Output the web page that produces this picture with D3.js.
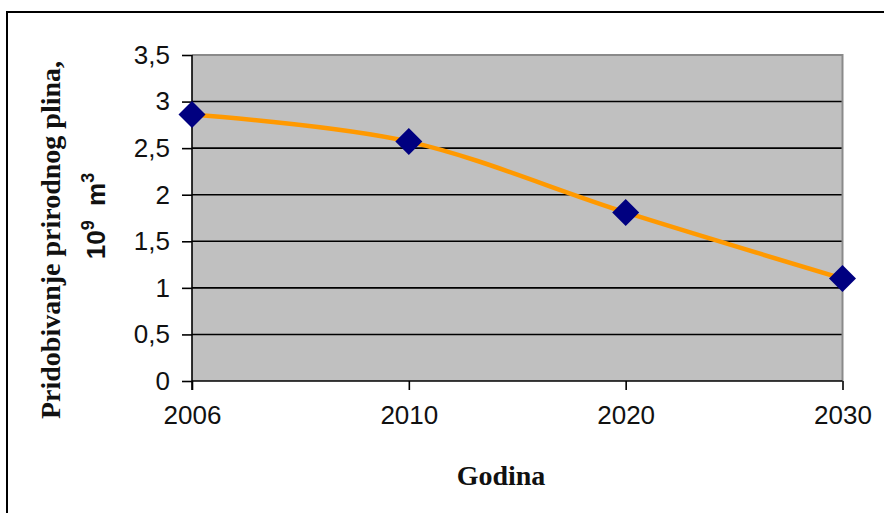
<!DOCTYPE html>
<html>
<head>
<meta charset="utf-8">
<script src="https://cdn.jsdelivr.net/npm/d3@7"></script>
<style>
  html, body { margin: 0; padding: 0; background: #fff; }
  svg { display: block; }
</style>
</head>
<body>
<svg id="chart" width="884" height="513"></svg>
<script>
const years = ["2006", "2010", "2020", "2030"];
const production = [2.86, 2.57, 1.81, 1.10];
const yTicks = [0, 0.5, 1, 1.5, 2, 2.5, 3, 3.5];
const yTitleLine1 = "Pridobivanje prirodnog plina,";
const xTitle = "Godina";

const svg = d3.select("#chart");
const W = 884, H = 513;
const plot = { left: 192, right: 842.5, top: 55, bottom: 381 };

// outer frame
svg.append("rect")
  .attr("x", 7).attr("y", 12)
  .attr("width", W + 20).attr("height", H + 20)
  .attr("fill", "#fff").attr("stroke", "#000").attr("stroke-width", 2);

const x = d3.scalePoint().domain(years).range([plot.left, plot.right]);
const y = d3.scaleLinear().domain([0, 3.5]).range([plot.bottom, plot.top]);

// plot background
svg.append("rect")
  .attr("x", plot.left).attr("y", plot.top)
  .attr("width", plot.right - plot.left).attr("height", plot.bottom - plot.top)
  .attr("fill", "#c0c0c0");

// gridlines
svg.append("g").selectAll("line")
  .data(yTicks.filter(d => d > 0 && d < 3.5))
  .join("line")
  .attr("x1", plot.left).attr("x2", plot.right)
  .attr("y1", d => y(d)).attr("y2", d => y(d))
  .attr("stroke", "#000").attr("stroke-width", 1.6);

// plot border top & right (gray)
svg.append("path")
  .attr("d", `M${plot.left},${plot.top}H${plot.right}V${plot.bottom}`)
  .attr("fill", "none").attr("stroke", "#8a8a8a").attr("stroke-width", 2);

const fmt = d => String(d).replace(".", ",");

// y axis
const yAxis = d3.axisLeft(y).tickValues(yTicks).tickFormat(fmt).tickSize(10).tickPadding(12);
const gy = svg.append("g").attr("transform", `translate(${plot.left},0)`).call(yAxis);
gy.select(".domain").attr("stroke", "#000").attr("stroke-width", 1.6)
  .attr("d", `M0,${plot.top}V${plot.bottom + 9}`);
gy.selectAll(".tick line").attr("stroke", "#000").attr("stroke-width", 1.6);
gy.selectAll(".tick text")
  .attr("font-family", "'Liberation Sans', Arial, sans-serif")
  .attr("font-size", 26).attr("fill", "#111");

// x axis
const xAxis = d3.axisBottom(x).tickSize(9).tickPadding(16);
const gx = svg.append("g").attr("transform", `translate(0,${plot.bottom})`).call(xAxis);
gx.select(".domain").attr("stroke", "#000").attr("stroke-width", 1.6)
  .attr("d", `M${plot.left},0H${plot.right}`);
gx.selectAll(".tick line").attr("stroke", "#000").attr("stroke-width", 1.6);
gx.selectAll(".tick text")
  .attr("font-family", "'Liberation Sans', Arial, sans-serif")
  .attr("font-size", 26).attr("fill", "#111");

// line
const data = years.map((yr, i) => ({ yr, v: production[i] }));
const line = d3.line()
  .x(d => x(d.yr)).y(d => y(d.v))
  .curve(d3.curveCatmullRom.alpha(0));
svg.append("path")
  .datum(data)
  .attr("d", line)
  .attr("fill", "none")
  .attr("stroke", "#ff9900")
  .attr("stroke-width", 4.5);

// markers
svg.append("g").selectAll("path")
  .data(data)
  .join("path")
  .attr("transform", d => `translate(${x(d.yr)},${y(d.v)})`)
  .attr("d", "M0,-13.5L13.5,0L0,13.5L-13.5,0Z")
  .attr("fill", "#000080");

// x title
svg.append("text")
  .attr("x", 501).attr("y", 485)
  .attr("text-anchor", "middle")
  .attr("font-family", "'Liberation Serif', 'Times New Roman', serif")
  .attr("font-weight", "bold").attr("font-size", 28)
  .attr("fill", "#111")
  .text(xTitle);

// y title line 1
svg.append("text")
  .attr("transform", "translate(60,240) rotate(-90)")
  .attr("text-anchor", "middle")
  .attr("font-family", "'Liberation Serif', 'Times New Roman', serif")
  .attr("font-weight", "bold").attr("font-size", 28)
  .attr("fill", "#111")
  .text(yTitleLine1);

// y title line 2: 10^9 m^3
const t2 = svg.append("text")
  .attr("transform", "translate(105,216) rotate(-90)")
  .attr("text-anchor", "middle")
  .attr("font-family", "'Liberation Sans', Arial, sans-serif")
  .attr("font-weight", "bold").attr("font-size", 26)
  .attr("fill", "#111");
t2.append("tspan").text("10");
t2.append("tspan").attr("font-size", 18).attr("dy", -11).text("9");
t2.append("tspan").attr("dy", 11).text("\u00a0\u00a0m");
t2.append("tspan").attr("font-size", 18).attr("dy", -11).text("3");
</script>
</body>
</html>
